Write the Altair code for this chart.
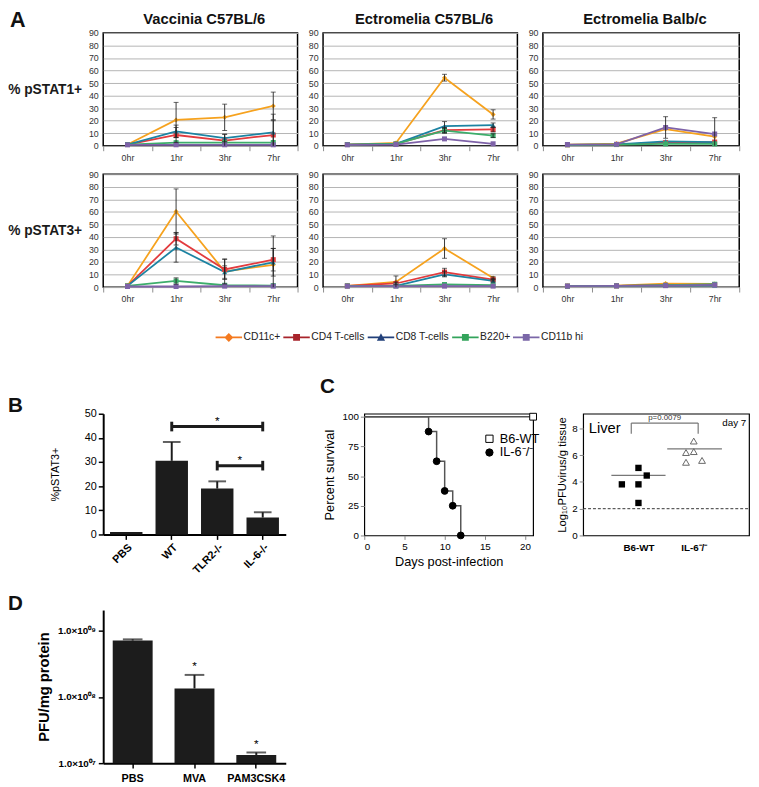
import json
import altair as alt
import pandas as pd

FONT = "Liberation Sans"

# ------------------------------------------------------------------ panel A
times = ["0hr", "1hr", "3hr", "7hr"]
series = ["CD11c+", "CD4 T-cells", "CD8 T-cells", "B220+", "CD11b hi"]
line_colors = ["#F6A21E", "#E23B3E", "#1C83A2", "#3DAD6B", "#7E62A8"]
legend_colors = ["#F47A20", "#A8242B", "#22407A", "#33A45B", "#7B67A8"]
marker_shapes = ["diamond", "square", "triangle-up", "square", "square"]
panel_titles = ["Vaccinia C57BL/6", "Ectromelia C57BL/6", "Ectromelia Balb/c"]
row_labels = ["% pSTAT1+", "% pSTAT3+"]

# rows follow `series`, columns follow `times`
vac_stat1 = [[1.0, 20.6, 22.7, 31.8], [1.0, 8.6, 4.2, 8.6], [1.0, 11.5, 6.2, 10.7],
             [1.0, 2.5, 2.5, 2.6], [0.8, 0.8, 0.8, 0.8]]
vac_stat1_err = [[0, 14, 10.5, 11], [0, 6, 5, 11.4], [0, 5, 3, 14.5], [0, 0, 0, 0], [0, 0, 0, 0]]
ect_stat1 = [[1.0, 2.3, 54.3, 25.0], [1.0, 1.5, 12.5, 13.0], [1.0, 1.5, 15.6, 16.4],
             [1.0, 1.5, 12.0, 8.1], [0.8, 1.0, 5.5, 1.6]]
ect_stat1_err = [[0, 0, 2.7, 3.7], [0, 0, 2, 2], [0, 0, 3.7, 1.8], [0, 0, 2, 1.5], [0, 0, 0, 0]]
balb_stat1 = [[1.0, 1.8, 13.3, 7.3], [0.8, 1.0, 2.5, 3.0], [0.8, 1.2, 3.6, 3.0],
              [0.8, 1.0, 1.5, 1.5], [1.0, 1.2, 14.6, 9.4]]
balb_stat1_err = [[0, 0, 0, 0], [0, 0, 0, 0], [0, 0, 0, 0], [0, 0, 0, 0], [0, 0, 8.6, 13.0]]
vac_stat3 = [[1.0, 60.3, 12.5, 17.8], [1.0, 38.6, 14.1, 21.9], [1.0, 31.6, 12.0, 19.8],
             [1.0, 4.9, 1.5, 1.2], [0.5, 0.5, 0.8, 0.8]]
vac_stat3_err = [[0, 18, 10, 23], [0, 5, 8, 9], [0, 11.7, 5, 11], [0, 2.5, 0, 0], [0, 0, 0, 0]]
ect_stat3 = [[1.0, 4.2, 30.8, 7.3], [1.0, 2.9, 12.0, 6.0], [1.0, 1.0, 10.2, 5.0],
             [1.0, 1.0, 2.1, 1.5], [0.8, 0.8, 0.8, 0.8]]
ect_stat3_err = [[0, 4.7, 7.8, 1.0], [0, 1.0, 3.0, 1.0], [0, 0, 2.0, 1.0], [0, 0, 0, 0], [0, 0, 0, 0]]
balb_stat3 = [[0.8, 1.2, 2.8, 2.5], [0.8, 1.0, 1.5, 2.0], [0.8, 1.0, 1.2, 1.5],
              [0.8, 1.0, 1.5, 2.3], [0.8, 1.0, 1.2, 1.8]]
balb_stat3_err = [[0, 0, 0, 0]] * 5

a_grid = [[(vac_stat1, vac_stat1_err), (ect_stat1, ect_stat1_err), (balb_stat1, balb_stat1_err)],
          [(vac_stat3, vac_stat3_err), (ect_stat3, ect_stat3_err), (balb_stat3, balb_stat3_err)]]

# ------------------------------------------------------------------ panel B
b_groups = ["PBS", "WT", "TLR2-/-", "IL-6-/-"]
b_means = [1.0, 30.5, 19.0, 7.0]
b_sem = [0.0, 7.8, 3.0, 2.2]
b_cmp_from = ["WT", "TLR2-/-"]
b_cmp_to = ["IL-6-/-", "IL-6-/-"]
b_cmp_y = [44.7, 28.5]

# ------------------------------------------------------------------ panel C
km_group = ["B6-WT", "B6-WT", "IL-6⁻/⁻", "IL-6⁻/⁻", "IL-6⁻/⁻", "IL-6⁻/⁻", "IL-6⁻/⁻", "IL-6⁻/⁻"]
km_day = [0, 21, 0, 8, 9, 10, 11, 12]
km_pct = [100, 100, 100, 87.5, 62.5, 37.5, 25, 0]
km_groups = ["B6-WT", "IL-6⁻/⁻"]

liver_groups = ["B6-WT", "IL-6⁻/⁻"]
liver_group = ["B6-WT"] * 5 + ["IL-6⁻/⁻"] * 5
liver_xpos = [1.0, 1.15, 0.70, 1.0, 1.0, 2.0, 1.86, 2.0, 1.86, 2.15]
liver_log = [5.05, 4.48, 3.82, 3.82, 2.43, 7.06, 6.20, 6.27, 5.47, 5.61]
liver_mean = [4.5, 6.47]
liver_mean_x0 = [0.51, 1.52]
liver_mean_x1 = [1.49, 2.51]
liver_limit = 2.0
liver_br_x = [0.87, 2.08]
liver_br_y = [7.6, 8.4]
liver_p = "p=0.0079"

# ------------------------------------------------------------------ panel D
d_groups = ["PBS", "MVA", "PAM3CSK4"]
d_means = [7.1e8, 1.34e8, 1.33e7]
d_hi = [7.4e8, 2.15e8, 1.45e7]
d_star = ["", "*", "*"]
d_tick_vals = [1e7, 1e8, 1e9]
d_tick_text = ["1.0×10⁰⁷", "1.0×10⁰⁸", "1.0×10⁰⁹"]


def label_text(t, dx, dy, size=21, align="left", weight="bold", baseline="middle"):
    return alt.Chart(pd.DataFrame({"t": [t]})).mark_text(
        fontSize=size, fontWeight=weight, align=align, baseline=baseline, color="#111111", font=FONT
    ).encode(text="t:N", x=alt.value(dx), y=alt.value(dy))


# ---------------------------------------------------------------- A panels
def a_panel(ri, ci):
    vals, errs = a_grid[ri][ci]
    width = 200 if ci == 2 else 198
    rows, caps, bars = [], [], []
    for si, s in enumerate(series):
        for ti, t in enumerate(times):
            v, e = vals[si][ti], errs[si][ti]
            rows.append({"series": s, "time": t, "value": v})
            if e > 0:
                lo = max(0.0, v - e)
                bars.append({"series": s, "time": t, "value": lo, "hi": v + e})
                caps.append({"series": s, "time": t, "value": v + e})
                if v - e > 0:
                    caps.append({"series": s, "time": t, "value": v - e})
    d = pd.DataFrame(rows)
    xenc = alt.X("time:N", sort=times,
                 scale=alt.Scale(type="band", domain=times, paddingInner=0, paddingOuter=0),
                 axis=alt.Axis(title=None, labelAngle=0, tickBand="extent", tickSize=5,
                               tickColor="#8c8c8c", domain=False, labelFontSize=9,
                               labelColor="#333333", labelPadding=3, grid=False))
    yargs = dict(values=list(range(0, 91, 10)), grid=True, gridColor="#b4b4b4", gridWidth=1,
                 ticks=False, domain=False, labelFontSize=9, labelColor="#333333", labelPadding=5)
    if ci == 0:
        yargs.update(title=row_labels[ri], titleAngle=0, titleFontSize=14, titleFontWeight="bold",
                     titleAlign="right", titleBaseline="middle", titleX=-22, titleY=57.5,
                     titleColor="#1a1a1a")
    else:
        yargs.update(title=None)
    yaxis = alt.Axis(**yargs)
    yscale = alt.Scale(domain=[0, 90], nice=False)
    color = alt.Color("series:N", scale=alt.Scale(domain=series, range=line_colors), legend=None)
    shape = alt.Shape("series:N", scale=alt.Scale(domain=series, range=marker_shapes), legend=None)
    layers = [
        alt.Chart(d).mark_line(strokeWidth=1.8).encode(
            x=xenc, y=alt.Y("value:Q", scale=yscale, axis=yaxis), color=color),
        alt.Chart(d).mark_point(filled=True, size=26, opacity=1).encode(
            x=xenc, y=alt.Y("value:Q", scale=yscale, axis=yaxis), color=color, shape=shape),
    ]
    if bars:
        layers.append(alt.Chart(pd.DataFrame(bars)).mark_rule(color="#222222", strokeWidth=0.9).encode(
            x=xenc, y=alt.Y("value:Q", scale=yscale, axis=yaxis), y2="hi:Q"))
        layers.append(alt.Chart(pd.DataFrame(caps)).mark_tick(color="#222222", size=5, thickness=1).encode(
            x=xenc, y=alt.Y("value:Q", scale=yscale, axis=yaxis)))
    if ri == 0:
        layers.append(label_text(panel_titles[ci], width / 2 + 4, -14, size=15, align="center"))
    if ri == 0 and ci == 0:
        layers.append(label_text("A", -95, -13, size=22))
    return alt.layer(*layers).properties(
        width=width, height=115, view=alt.ViewBackground(stroke="black", strokeWidth=1.5))


row_a = alt.concat(*[a_panel(r, c) for r in range(2) for c in range(3)], columns=3,
                   spacing={"row": 6, "column": 8}, align="each")

# ---------------------------------------------------------------- legend row
legend_paths = [
    "M-2,-0.14H2V0.14H-2Z M0,-0.68L0.68,0L0,0.68L-0.68,0Z",
    "M-2,-0.14H2V0.14H-2Z M-0.52,-0.52H0.52V0.52H-0.52Z",
    "M-2,-0.14H2V0.14H-2Z M0,-0.62L0.62,0.5H-0.62Z",
    "M-2,-0.14H2V0.14H-2Z M-0.52,-0.52H0.52V0.52H-0.52Z",
    "M-2,-0.14H2V0.14H-2Z M-0.52,-0.52H0.52V0.52H-0.52Z",
]
leg_args = dict(title=None, orient="none", legendX=121, legendY=5, direction="horizontal",
                symbolSize=182, symbolOpacity=1, symbolStrokeWidth=0, labelFontSize=10.5,
                labelOffset=8, columnPadding=2, labelColor="#222222", labelFont=FONT)
legend_chart = alt.Chart(pd.DataFrame({"series": series})).mark_point(
    filled=True, opacity=0, size=10
).encode(
    color=alt.Color("series:N", scale=alt.Scale(domain=series, range=legend_colors),
                    legend=alt.Legend(**leg_args)),
    shape=alt.Shape("series:N", scale=alt.Scale(domain=series, range=legend_paths),
                    legend=alt.Legend(**leg_args)),
).properties(width=600, height=30, view=alt.ViewBackground(stroke="transparent"))

# ---------------------------------------------------------------- B
b_df = pd.DataFrame({"group": b_groups, "mean": b_means, "hi": [m + s for m, s in zip(b_means, b_sem)]})
b_err = b_df[b_df["hi"] > b_df["mean"]]
b_cmp = pd.DataFrame({"from": b_cmp_from, "to": b_cmp_to, "y": b_cmp_y})
b_ends = pd.DataFrame({"group": b_cmp_from + b_cmp_to, "y": b_cmp_y + b_cmp_y})
b_ends["lo"] = b_ends["y"] - 2.0
b_ends["hi"] = b_ends["y"] + 2.0
b_cmp["star"] = b_cmp["y"] + 2.4

bx_scale = alt.Scale(domain=b_groups, paddingInner=0.287, paddingOuter=0.15)
bx_axis = alt.Axis(title=None, labelAngle=-45, labelFontSize=11, labelFontWeight="bold",
                   tickSize=5, tickWidth=1.5, tickColor="black", domainColor="black",
                   domainWidth=2, labelPadding=2, labelColor="black")
by_scale = alt.Scale(domain=[0, 50], nice=False)
by_axis = alt.Axis(values=[0, 10, 20, 30, 40, 50], title="%pSTAT3+", titleFontSize=11,
                   titleFontWeight="normal", titlePadding=24, labelFontSize=11, tickSize=5,
                   tickWidth=1.5, tickColor="black", domainColor="black", domainWidth=2,
                   grid=False, labelPadding=2, labelColor="black", titleColor="black")


def bX(f):
    return alt.X(f, sort=b_groups, scale=bx_scale, axis=bx_axis)


def bY(f):
    return alt.Y(f, scale=by_scale, axis=by_axis)


# star positions: first comparison centred over TLR2-/-, second mid-way TLR2-/- to IL-6-/-
star1 = alt.Chart(b_cmp.iloc[[0]]).mark_text(text="*", fontSize=12, baseline="middle").encode(
    x=bX("mid:N"), y=bY("star:Q")
).transform_calculate(mid="'TLR2-/-'")
star2 = alt.Chart(b_cmp.iloc[[1]]).mark_text(text="*", fontSize=12, baseline="middle", dx=23).encode(
    x=bX("from:N"), y=bY("star:Q"))
b_chart = alt.layer(
    alt.Chart(b_df).mark_bar(color="#1c1c1c").encode(x=bX("group:N"), y=bY("mean:Q")),
    alt.Chart(b_err).mark_rule(color="#1c1c1c", strokeWidth=2).encode(x=bX("group:N"), y=bY("mean:Q"), y2="hi:Q"),
    alt.Chart(b_err).mark_tick(color="#1c1c1c", size=18, thickness=2).encode(x=bX("group:N"), y=bY("hi:Q")),
    alt.Chart(b_cmp).mark_rule(color="#1c1c1c", strokeWidth=3).encode(x=bX("from:N"), x2="to:N", y=bY("y:Q")),
    alt.Chart(b_ends).mark_rule(color="#1c1c1c", strokeWidth=3).encode(x=bX("group:N"), y=bY("lo:Q"), y2="hi:Q"),
    star1, star2,
    label_text("B", -97, -8),
).properties(width=186, height=123, view=alt.ViewBackground(stroke="transparent"))

# ---------------------------------------------------------------- C left (survival)
km_df = pd.DataFrame({"group": km_group, "day": km_day, "pct": km_pct})
km_pts = km_df[km_df["day"] > 0]
cx = alt.X("day:Q", scale=alt.Scale(domain=[0, 21], nice=False),
           axis=alt.Axis(values=[0, 5, 10, 15, 20], title="Days post-infection", titleFontSize=13,
                         titleFontWeight="normal", labelFontSize=10, tickSize=4, domain=False,
                         grid=False, labelColor="black", titleColor="black", titlePadding=5))
cy = alt.Y("pct:Q", scale=alt.Scale(domain=[0, 102.5], nice=False),
           axis=alt.Axis(values=[0, 25, 50, 75, 100], title="Percent survival", titleFontSize=13,
                         titleFontWeight="normal", labelFontSize=10, tickSize=4, domain=False,
                         grid=False, labelColor="black", titleColor="black", titlePadding=6))
km_leg = dict(title=None, orient="none", legendX=121, legendY=19, labelFontSize=13, symbolSize=55,
              rowPadding=0, symbolStrokeColor="black", symbolStrokeWidth=1, labelFont=FONT,
              labelColor="black", labelOffset=4)
c_left = alt.layer(
    alt.Chart(km_df).mark_line(interpolate="step-after", color="#555555", strokeWidth=1.5).encode(
        x=cx, y=cy, detail="group:N"),
    alt.Chart(km_pts).mark_point(filled=True, strokeWidth=1, size=48, opacity=1).encode(
        x=cx, y=cy,
        shape=alt.Shape("group:N", scale=alt.Scale(domain=km_groups, range=["square", "circle"]),
                        legend=alt.Legend(**km_leg)),
        fill=alt.Fill("group:N", scale=alt.Scale(domain=km_groups, range=["white", "black"]),
                      legend=alt.Legend(**km_leg)),
        stroke=alt.Stroke("group:N", scale=alt.Scale(domain=km_groups, range=["black", "black"]),
                          legend=alt.Legend(**km_leg))),
    label_text("C", -45, -27),
).properties(width=172, height=124, view=alt.ViewBackground(stroke="black", strokeWidth=1.2))

# ---------------------------------------------------------------- C right (liver titres)
lv = pd.DataFrame({"group": liver_group, "x": liver_xpos, "y": liver_log})
lv_mean = pd.DataFrame({"x": liver_mean_x0, "x2": liver_mean_x1, "y": liver_mean})
lv_lim = pd.DataFrame({"x": [0], "x2": [3], "y": [liver_limit]})
lv_br_h = pd.DataFrame({"x": [liver_br_x[0]], "x2": [liver_br_x[1]], "y": [liver_br_y[1]]})
lv_br_v = pd.DataFrame({"x": liver_br_x, "y": [liver_br_y[0]] * 2, "y2": [liver_br_y[1]] * 2})
lv_p = pd.DataFrame({"x": [sum(liver_br_x) / 2], "y": [liver_br_y[1] + 0.35], "t": [liver_p]})
lv_txt = pd.DataFrame({"x": [0.1], "y": [8.0], "t": ["Liver"]})
lv_day = pd.DataFrame({"x": [2.95], "y": [8.4], "t": ["day 7"]})

x_expr = f"datum.value == 1 ? '{liver_groups[0]}' : '{liver_groups[1]}'"
rxs = alt.Scale(domain=[0, 3], nice=False)
rx_axis = alt.Axis(values=[1, 2], labelExpr=x_expr, title=None, ticks=False, domain=False, grid=False,
                   labelFontSize=10, labelFontWeight="bold", labelPadding=7, labelColor="black")
rys = alt.Scale(domain=[0, 9.1], nice=False)
ry_axis = alt.Axis(values=[0, 2, 4, 6, 8], title="Log₁₀PFUvirus/g tissue", titleFontSize=11.5,
                   titleFontWeight="normal", labelFontSize=10, tickSize=4, domain=False, grid=False,
                   labelColor="black", titleColor="black", titlePadding=4)


def rX(f):
    return alt.X(f, scale=rxs, axis=rx_axis)


def rY(f):
    return alt.Y(f, scale=rys, axis=ry_axis)


c_right = alt.layer(
    alt.Chart(lv_lim).mark_rule(color="#333333", strokeWidth=1, strokeDash=[3, 2]).encode(
        x=rX("x:Q"), x2="x2:Q", y=rY("y:Q")),
    alt.Chart(lv_mean).mark_rule(color="#777777", strokeWidth=1.3).encode(x=rX("x:Q"), x2="x2:Q", y=rY("y:Q")),
    alt.Chart(lv[lv.group == liver_groups[0]]).mark_point(
        shape="square", filled=True, color="black", size=42, opacity=1).encode(x=rX("x:Q"), y=rY("y:Q")),
    alt.Chart(lv[lv.group == liver_groups[1]]).mark_point(
        shape="triangle-up", filled=False, color="#666666", strokeWidth=1, size=48, opacity=1).encode(
        x=rX("x:Q"), y=rY("y:Q")),
    alt.Chart(lv_br_h).mark_rule(color="#777777", strokeWidth=1.2).encode(x=rX("x:Q"), x2="x2:Q", y=rY("y:Q")),
    alt.Chart(lv_br_v).mark_rule(color="#777777", strokeWidth=1.2).encode(x=rX("x:Q"), y=rY("y:Q"), y2="y2:Q"),
    alt.Chart(lv_p).mark_text(fontSize=8, baseline="middle", color="#333333").encode(
        x=rX("x:Q"), y=rY("y:Q"), text="t:N"),
    alt.Chart(lv_txt).mark_text(fontSize=15, align="left", baseline="middle", color="black").encode(
        x=rX("x:Q"), y=rY("y:Q"), text="t:N"),
    alt.Chart(lv_day).mark_text(fontSize=10, align="right", baseline="middle", color="black").encode(
        x=rX("x:Q"), y=rY("y:Q"), text="t:N"),
).properties(width=169, height=124, view=alt.ViewBackground(stroke="black", strokeWidth=1.2))

# ---------------------------------------------------------------- D
d_df = pd.DataFrame({"group": d_groups, "mean": d_means, "hi": d_hi, "star": d_star})
d_expr = f"{json.dumps(d_tick_text, ensure_ascii=False)}[round(log(datum.value)/LN10) - 7]"
dx_scale = alt.Scale(domain=d_groups, paddingInner=0.354, paddingOuter=0.154)
dx_axis = alt.Axis(title=None, labelAngle=0, labelFontSize=11, labelFontWeight="bold", tickSize=5,
                   tickWidth=1.5, tickColor="black", domainColor="black", domainWidth=2,
                   labelPadding=5, labelColor="black")
dy_scale = alt.Scale(type="log", domain=[1e7, 2.05e9], nice=False)
dy_axis = alt.Axis(values=d_tick_vals, labelExpr=d_expr, title="PFU/mg protein", titleFontSize=15,
                   titleFontWeight="bold", titlePadding=5, labelFontSize=10, labelFontWeight="bold",
                   tickSize=5, tickWidth=1.5, tickColor="black", domainColor="black", domainWidth=2,
                   grid=False, labelPadding=3, labelColor="black", titleColor="black")


def dX(f):
    return alt.X(f, sort=d_groups, scale=dx_scale, axis=dx_axis)


def dY(f):
    return alt.Y(f, scale=dy_scale, axis=dy_axis)


d_chart = alt.layer(
    alt.Chart(d_df).mark_bar(color="#1c1c1c").encode(x=dX("group:N"), y=dY("mean:Q"),
                                                     y2=alt.datum(d_tick_vals[0])),
    alt.Chart(d_df).mark_rule(color="#1c1c1c", strokeWidth=2).encode(x=dX("group:N"), y=dY("mean:Q"), y2="hi:Q"),
    alt.Chart(d_df).mark_tick(color="#1c1c1c", size=20, thickness=2).encode(x=dX("group:N"), y=dY("hi:Q")),
    alt.Chart(d_df).mark_text(fontSize=12, baseline="middle", dy=-9, color="black").encode(
        x=dX("group:N"), y=dY("hi:Q"), text="star:N"),
    label_text("D", -97, -6),
).properties(width=186, height=156, view=alt.ViewBackground(stroke="transparent"))

# ---------------------------------------------------------------- assemble
c_pair = alt.hconcat(c_left, c_right, spacing=15).resolve_scale(
    shape="independent", fill="independent", color="independent", stroke="independent")
row_bc = alt.hconcat(b_chart, c_pair, spacing=33).resolve_scale(
    shape="independent", fill="independent", color="independent", stroke="independent")
row_d = alt.hconcat(d_chart)
lower = alt.vconcat(row_bc, row_d, spacing=16).resolve_scale(
    shape="independent", fill="independent", color="independent", stroke="independent")

chart = alt.vconcat(row_a, legend_chart, lower, spacing=20).resolve_scale(
    color="independent", shape="independent", fill="independent", stroke="independent"
).properties(padding={"top": -7, "left": -2, "right": 0, "bottom": 0}).configure(font=FONT).configure_axis(
    labelFont=FONT, titleFont=FONT
).configure_text(font=FONT).configure_title(font=FONT).configure_legend(labelFont=FONT)

chart.save("out.html", embed_options={"renderer": "svg", "actions": False})
